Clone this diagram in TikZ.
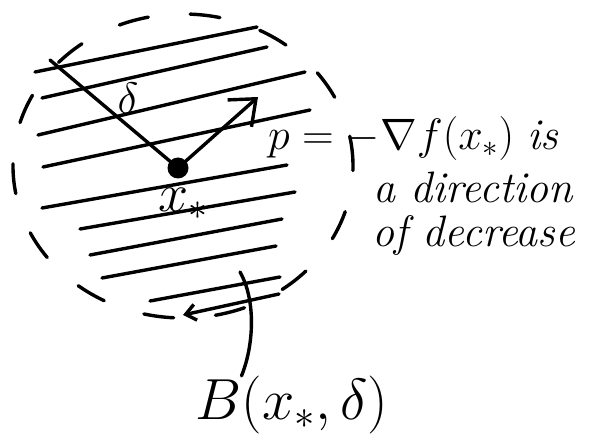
\RequirePackage{fix-cm}
\documentclass[tikz,border=0pt]{standalone}
\usetikzlibrary{arrows.meta}
\begin{document}
\begin{tikzpicture}[x=1pt,y=-1pt,line cap=round,line join=round,
  pen/.style={line width=3.4pt},
  lbl/.style={font=\fontsize{44}{48}\selectfont,inner sep=0pt}]
  \useasboundingbox (0,0) rectangle (591,446);
  \coordinate (R) at (50,60);
  \coordinate (P) at (258,97);
  \coordinate (Bt) at (240,272);
  % the ball
  \draw[pen,dash pattern=on 30pt off 42pt] (183,166) ellipse [x radius=170pt, y radius=152pt];
  \foreach \xa/\ya/\xb/\yb in {35/72/257/27, 42/98/267/47, 38/135/305/72,
      43/167/310/110, 42/208/287/165, 80/229/295/192, 90/255/282/219,
      102/278/276/246, 150/301/280/277}
    \draw[pen] (\xa,\ya) -- (\xb,\yb);
  \draw[pen,{Straight Barb[length=10pt,width=16pt]}-] (183,315) -- (279,294);
  \node[circle,fill,inner sep=0pt,minimum size=21pt] (ctr) at (178,168) {};
  \draw[pen] (ctr.center) -- (R);
  \draw[pen,-{Straight Barb[length=22pt,width=36pt]}] (ctr.center) -- (P);
  \node[lbl] (dlt) at (128,98) {$\delta$};
  \node[lbl,font=\fontsize{54}{58}\selectfont] (xs) at (183,204) {$x_*$};
  % direction of decrease
  \node[lbl,anchor=base west] (grad) at (268,150) {$p=-\nabla f(x_*)$ \itshape is};
  \node[lbl,anchor=base west] (dir) at (373,203) {\itshape a direction};
  \node[lbl,anchor=base west] (decr) at (372,247) {\itshape of decrease};
  \node[lbl,font=\fontsize{58}{62}\selectfont] (ball) at (292,405) {$B(x_*,\delta)$};
  \draw[pen] (Bt) .. controls (256,300) and (254,345) .. (ball.150);
\end{tikzpicture}
\end{document}
